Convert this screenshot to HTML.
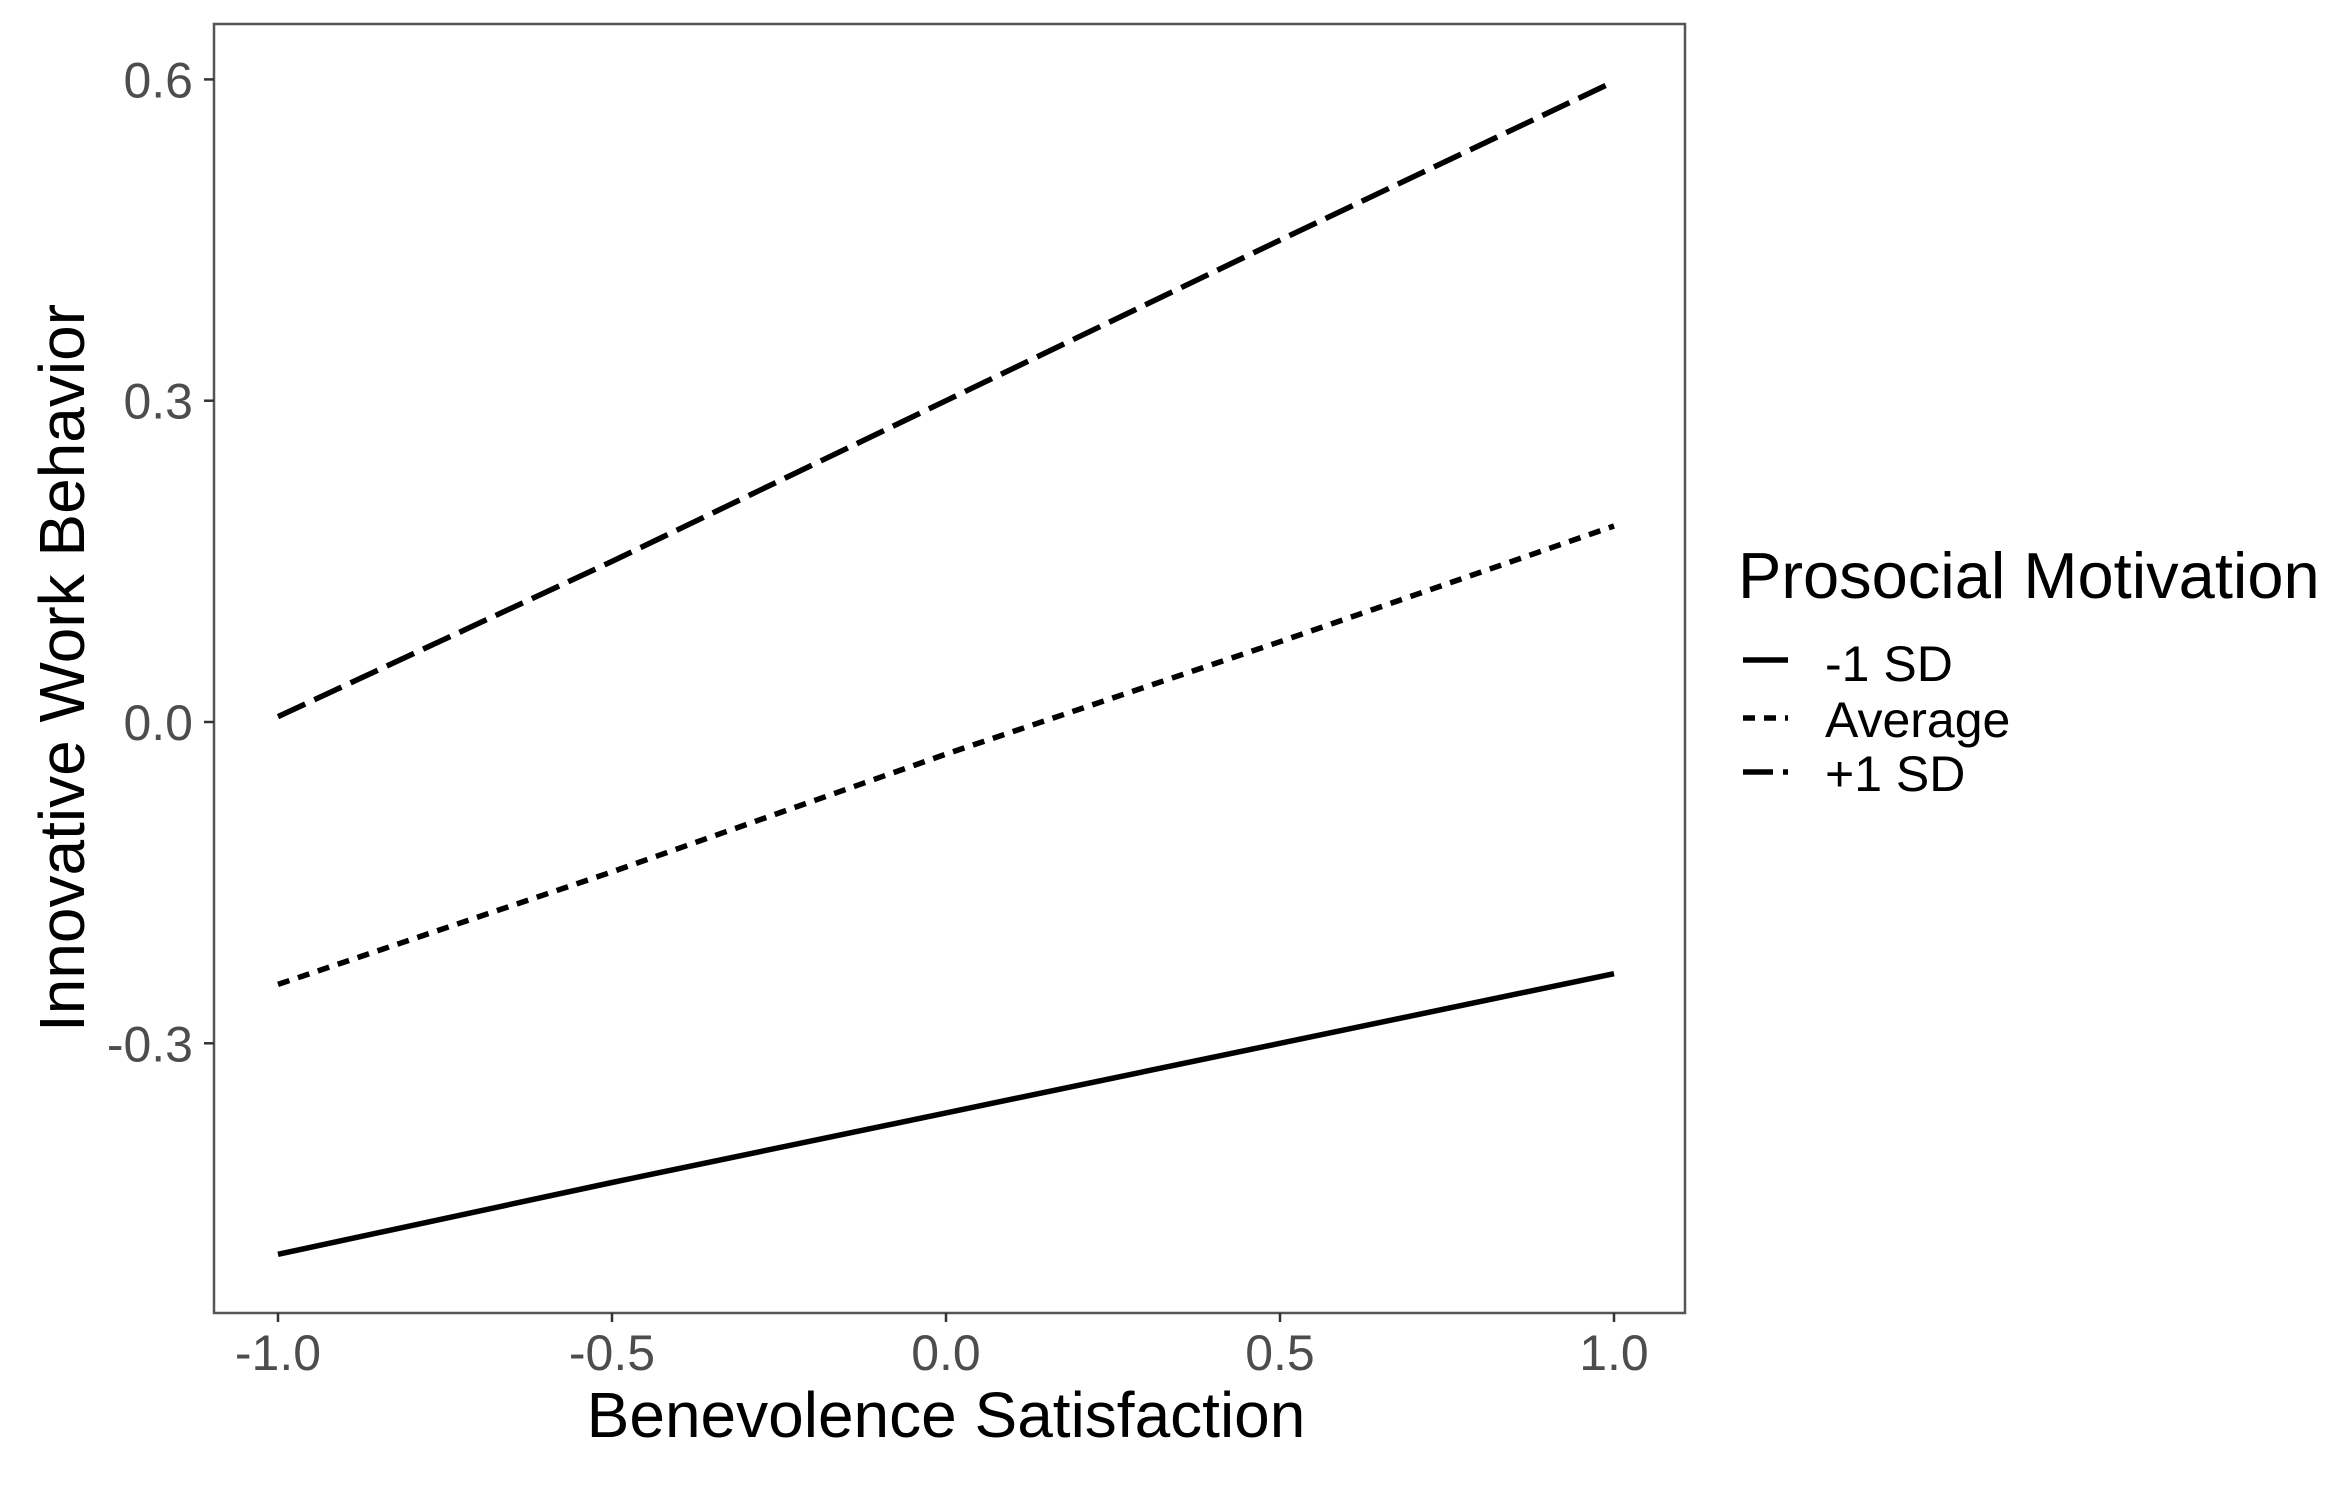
<!DOCTYPE html>
<html><head><meta charset="utf-8"><style>
html,body{margin:0;padding:0;background:#fff;}
svg{display:block;font-family:"Liberation Sans",Arial,sans-serif;}
</style></head><body>
<svg id="chart" width="2346" height="1490" viewBox="0 0 2346 1490">
<rect x="0" y="0" width="2346" height="1490" fill="#fff"/>
<rect x="214" y="24" width="1471" height="1289" fill="none" stroke="#555" stroke-width="2.5"/>
<g id="xticks"></g>
<g id="yticks"></g>
<g id="lines"></g>
<text x="946" y="1437" font-size="64" text-anchor="middle" fill="#000">Benevolence Satisfaction</text>
<text transform="translate(84,668) rotate(-90)" font-size="64" text-anchor="middle" fill="#000">Innovative Work Behavior</text>
<g>
<text x="1738" y="598" font-size="65" fill="#000">Prosocial Motivation</text>
<line x1="1743" y1="660" x2="1788" y2="660" stroke="#000" stroke-width="5.5"/>
<text x="1825" y="681" font-size="50" fill="#000">-1 SD</text>
<line x1="1743" y1="718" x2="1788" y2="718" stroke="#000" stroke-width="5.5" stroke-dasharray="12,9"/>
<text x="1825" y="737" font-size="50" fill="#000">Average</text>
<line x1="1743" y1="772" x2="1788" y2="772" stroke="#000" stroke-width="5.5" stroke-dasharray="30,10"/>
<text x="1825" y="791" font-size="50" fill="#000">+1 SD</text>
</g>
</svg>
<script>
const xValues = [-1, -0.5, 0, 0.5, 1];
const seriesMinus1SD = [-0.497, -0.43, -0.365, -0.30, -0.235];
const seriesAverage = [-0.245, -0.14, -0.03, 0.075, 0.183];
const seriesPlus1SD = [0.005, 0.15, 0.30, 0.45, 0.598];
const xTickValues = [-1, -0.5, 0, 0.5, 1];
const xTickLabels = ["-1.0", "-0.5", "0.0", "0.5", "1.0"];
const yTickValues = [0.6, 0.3, 0, -0.3];
const yTickLabels = ["0.6", "0.3", "0.0", "-0.3"];

const NS = "http://www.w3.org/2000/svg";
function xs(v){ return 946 + v * 668; }
function ys(v){ return 722 - v * 1071; }
function mk(tag, attrs, parent){
  const e = document.createElementNS(NS, tag);
  for (const k in attrs) e.setAttribute(k, attrs[k]);
  parent.appendChild(e);
  return e;
}
const gx = document.getElementById('xticks');
xTickValues.forEach((v, i) => {
  const t = mk('line', {x1: xs(v), x2: xs(v), y1: 1313, y2: 1322, stroke: '#333', 'stroke-width': 2.5}, gx);
  
  
  const l = mk('text', {x: xs(v), y: 1370, 'font-size': 50, 'text-anchor': 'middle', fill: '#4d4d4d'}, gx);
  l.textContent = xTickLabels[i];
  
  
});
const gy = document.getElementById('yticks');
yTickValues.forEach((v, i) => {
  const t = mk('line', {x1: 204, x2: 214, y1: ys(v), y2: ys(v), stroke: '#333', 'stroke-width': 2.5}, gy);
  
  
  const l = mk('text', {x: 193, y: ys(v) + 18, 'font-size': 50, 'text-anchor': 'end', fill: '#4d4d4d'}, gy);
  l.textContent = yTickLabels[i];
  
  
});
const gl = document.getElementById('lines');
function drawLine(vals, dash, name){
  const pts = vals.map((v, i) => xs(xValues[i]).toFixed(1) + ',' + ys(v).toFixed(1)).join(' ');
  const p = mk('polyline', {points: pts, fill: 'none', stroke: '#000', 'stroke-width': 5.5, 'stroke-linecap': 'butt'}, gl);
  if (dash) p.setAttribute('stroke-dasharray', dash);
  
  
}
drawLine(seriesMinus1SD, null, 'line-minus-1sd');
drawLine(seriesAverage, '12,9', 'line-average');
drawLine(seriesPlus1SD, '30,10', 'line-plus-1sd');
</script>
</body></html>
